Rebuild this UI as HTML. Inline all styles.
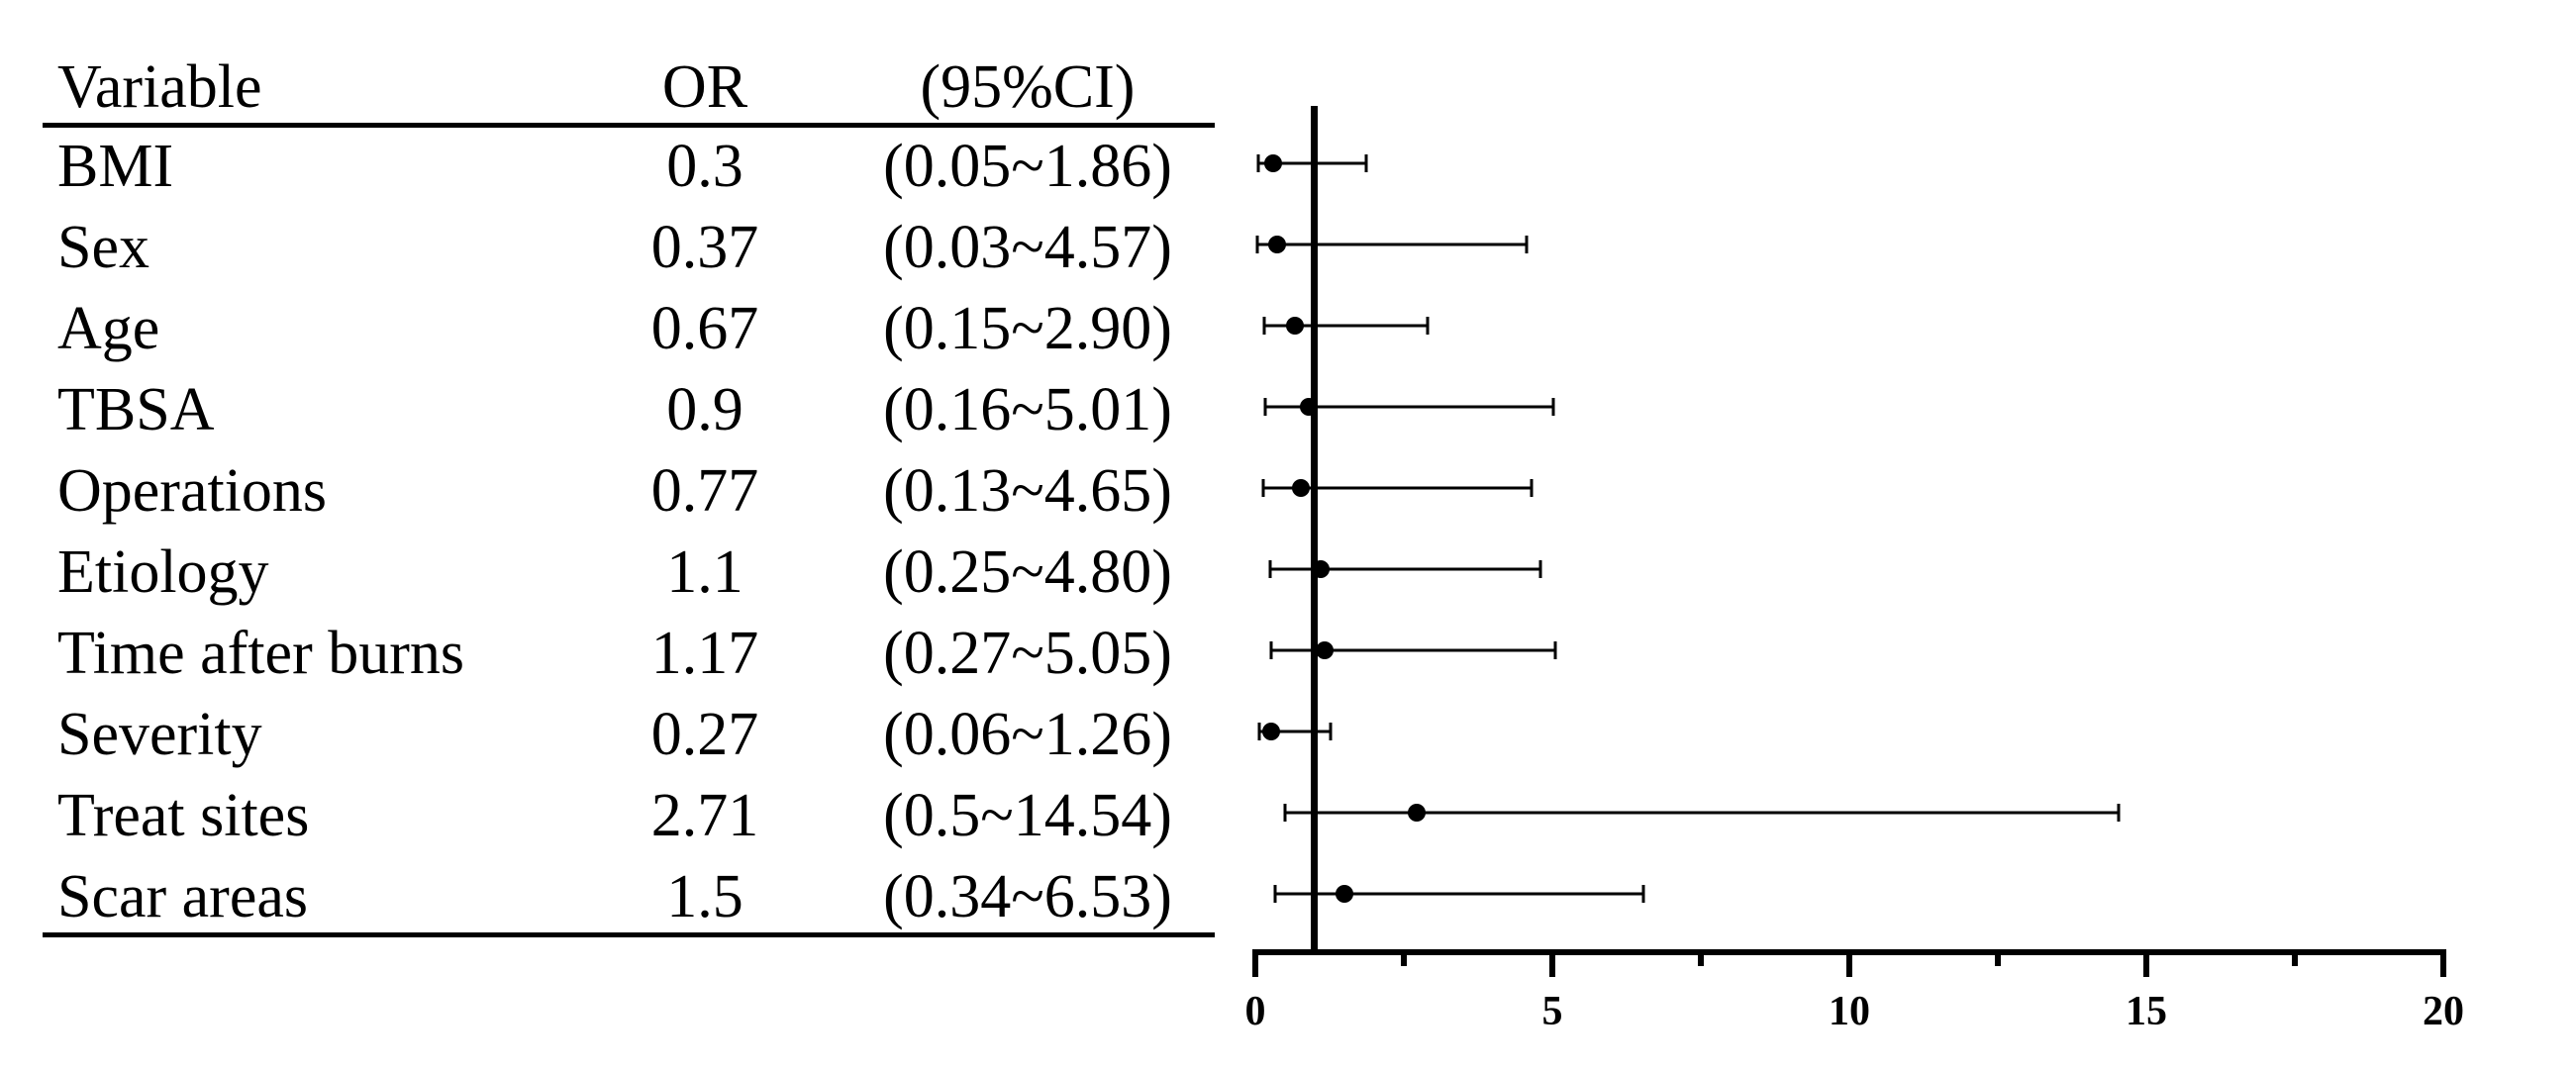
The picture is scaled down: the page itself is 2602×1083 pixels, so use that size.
<!DOCTYPE html>
<html><head><meta charset="utf-8"><style>html,body{margin:0;padding:0;background:#fff}svg{display:block}</style></head>
<body>
<svg width="2602" height="1083" xmlns="http://www.w3.org/2000/svg" font-family="'Liberation Serif', serif">
<rect width="2602" height="1083" fill="#fff"/>
<g font-size="62" fill="#000">
<text x="58" y="108">Variable</text>
<text x="712" y="108" text-anchor="middle">OR</text>
<text x="1038" y="108" text-anchor="middle">(95%CI)</text>
</g>
<rect x="43" y="124" width="1184" height="5" fill="#000"/>
<rect x="43" y="942" width="1184" height="5" fill="#000"/>
<g font-size="62" fill="#000">
<text x="58" y="188">BMI</text><text x="712" y="188" text-anchor="middle">0.3</text><text x="1038" y="188" text-anchor="middle">(0.05~1.86)</text>
<text x="58" y="270">Sex</text><text x="712" y="270" text-anchor="middle">0.37</text><text x="1038" y="270" text-anchor="middle">(0.03~4.57)</text>
<text x="58" y="352">Age</text><text x="712" y="352" text-anchor="middle">0.67</text><text x="1038" y="352" text-anchor="middle">(0.15~2.90)</text>
<text x="58" y="434">TBSA</text><text x="712" y="434" text-anchor="middle">0.9</text><text x="1038" y="434" text-anchor="middle">(0.16~5.01)</text>
<text x="58" y="516">Operations</text><text x="712" y="516" text-anchor="middle">0.77</text><text x="1038" y="516" text-anchor="middle">(0.13~4.65)</text>
<text x="58" y="598">Etiology</text><text x="712" y="598" text-anchor="middle">1.1</text><text x="1038" y="598" text-anchor="middle">(0.25~4.80)</text>
<text x="58" y="680">Time after burns</text><text x="712" y="680" text-anchor="middle">1.17</text><text x="1038" y="680" text-anchor="middle">(0.27~5.05)</text>
<text x="58" y="762">Severity</text><text x="712" y="762" text-anchor="middle">0.27</text><text x="1038" y="762" text-anchor="middle">(0.06~1.26)</text>
<text x="58" y="844">Treat sites</text><text x="712" y="844" text-anchor="middle">2.71</text><text x="1038" y="844" text-anchor="middle">(0.5~14.54)</text>
<text x="58" y="926">Scar areas</text><text x="712" y="926" text-anchor="middle">1.5</text><text x="1038" y="926" text-anchor="middle">(0.34~6.53)</text>
</g>
<rect x="1324" y="107" width="7" height="855" fill="#000"/>
<rect x="1265" y="959" width="1206" height="6" fill="#000"/>
<g fill="#000">
<rect x="1265" y="959" width="6" height="28"/><rect x="1415" y="959" width="6" height="17"/>
<rect x="1565" y="959" width="6" height="28"/><rect x="1715" y="959" width="6" height="17"/>
<rect x="1865" y="959" width="6" height="28"/><rect x="2015" y="959" width="6" height="17"/>
<rect x="2165" y="959" width="6" height="28"/><rect x="2315" y="959" width="6" height="17"/>
<rect x="2465" y="959" width="6" height="28"/>
</g>
<g font-size="42" font-weight="bold" text-anchor="middle" fill="#000">
<text x="1268" y="1035">0</text><text x="1568" y="1035">5</text><text x="1868" y="1035">10</text><text x="2168" y="1035">15</text><text x="2468" y="1035">20</text>
</g>
<g stroke="#000" stroke-width="3" fill="#000">
<line x1="1271" y1="165" x2="1380" y2="165"/><line x1="1271" y1="156" x2="1271" y2="174"/><line x1="1380" y1="156" x2="1380" y2="174"/><circle cx="1286" cy="165" r="9" stroke="none"/>
<line x1="1270" y1="247" x2="1542" y2="247"/><line x1="1270" y1="238" x2="1270" y2="256"/><line x1="1542" y1="238" x2="1542" y2="256"/><circle cx="1290" cy="247" r="9" stroke="none"/>
<line x1="1277" y1="329" x2="1442" y2="329"/><line x1="1277" y1="320" x2="1277" y2="338"/><line x1="1442" y1="320" x2="1442" y2="338"/><circle cx="1308" cy="329" r="9" stroke="none"/>
<line x1="1278" y1="411" x2="1569" y2="411"/><line x1="1278" y1="402" x2="1278" y2="420"/><line x1="1569" y1="402" x2="1569" y2="420"/><circle cx="1322" cy="411" r="9" stroke="none"/>
<line x1="1276" y1="493" x2="1547" y2="493"/><line x1="1276" y1="484" x2="1276" y2="502"/><line x1="1547" y1="484" x2="1547" y2="502"/><circle cx="1314" cy="493" r="9" stroke="none"/>
<line x1="1283" y1="575" x2="1556" y2="575"/><line x1="1283" y1="566" x2="1283" y2="584"/><line x1="1556" y1="566" x2="1556" y2="584"/><circle cx="1334" cy="575" r="9" stroke="none"/>
<line x1="1284" y1="657" x2="1571" y2="657"/><line x1="1284" y1="648" x2="1284" y2="666"/><line x1="1571" y1="648" x2="1571" y2="666"/><circle cx="1338" cy="657" r="9" stroke="none"/>
<line x1="1272" y1="739" x2="1344" y2="739"/><line x1="1272" y1="730" x2="1272" y2="748"/><line x1="1344" y1="730" x2="1344" y2="748"/><circle cx="1284" cy="739" r="9" stroke="none"/>
<line x1="1298" y1="821" x2="2140" y2="821"/><line x1="1298" y1="812" x2="1298" y2="830"/><line x1="2140" y1="812" x2="2140" y2="830"/><circle cx="1431" cy="821" r="9" stroke="none"/>
<line x1="1288" y1="903" x2="1660" y2="903"/><line x1="1288" y1="894" x2="1288" y2="912"/><line x1="1660" y1="894" x2="1660" y2="912"/><circle cx="1358" cy="903" r="9" stroke="none"/>
</g>
</svg>
</body></html>
